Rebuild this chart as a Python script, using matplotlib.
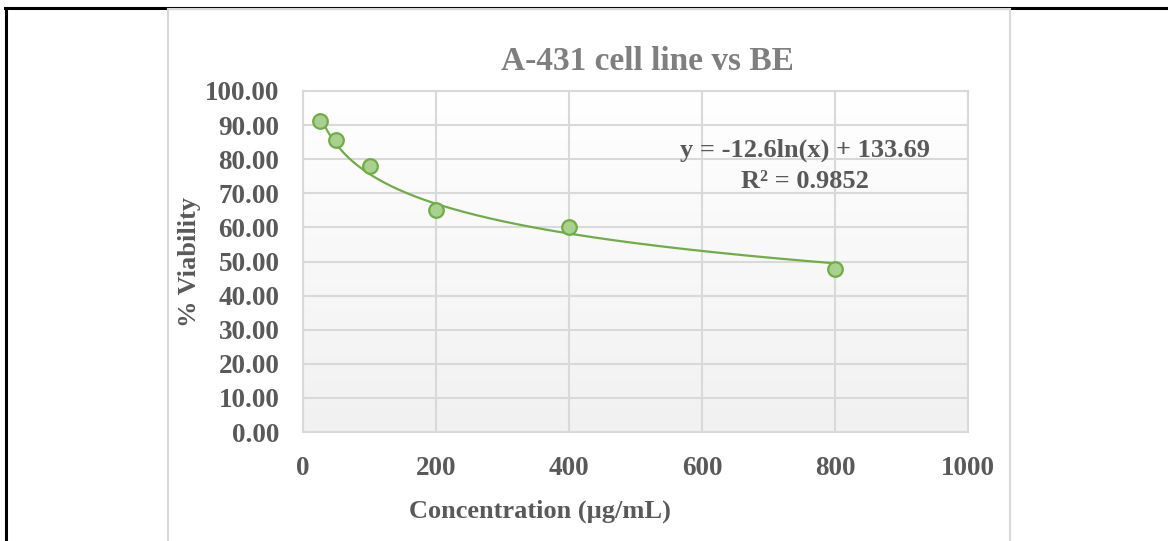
import numpy as np
import matplotlib
matplotlib.use("Agg")
from matplotlib import pyplot as plt
from matplotlib.lines import Line2D

plt.rcParams['font.family'] = ['Liberation Serif', 'DejaVu Serif']
plt.rcParams['font.weight'] = 'bold'

# data
conc = [25, 50, 100, 200, 400, 800]
viability = [91.2, 85.6, 78.0, 65.1, 60.1, 47.8]
# trendline coefficients as printed on the chart
slope = -12.6
intercept = 133.69
eq_text = 'y = -12.6ln(x) + 133.69'
r2_text = 'R² = 0.9852'
xticks = [0, 200, 400, 600, 800, 1000]
yticks = [0, 10, 20, 30, 40, 50, 60, 70, 80, 90, 100]

W, H = 1168, 541
fig = plt.figure(figsize=(W / 100, H / 100), dpi=100)
ax = fig.add_axes([303 / W, 1 - 432 / H, 665 / W, 341 / H])

txt = '#595959'
grid = '#d9d9d9'
green = '#70ad47'

# gradient background of the plot area (white on top, light grey at bottom)
grad = np.linspace(1.0, 0.945, 256).reshape(-1, 1)
ax.imshow(np.dstack([grad, grad, grad]), extent=[0, 1000, 0, 100], origin='upper',
          aspect='auto', zorder=0)

# trendline
xs = np.linspace(min(conc), max(conc), 300)
ax.plot(xs, slope * np.log(xs) + intercept, color=green, lw=1.6, zorder=3)
ax.plot(conc, viability, 'o', ms=10.5, mfc='#a9d18e', mec=green, mew=1.6, zorder=4)

ax.set_xlim(0, 1000)
ax.set_ylim(0, 100)
ax.set_xticks(xticks)
ax.set_yticks(yticks)
ax.set_yticklabels([f'{v:.2f}' for v in yticks])
ax.tick_params(length=0, labelsize=19.5, labelcolor=txt)
ax.tick_params(axis='x', pad=17)
ax.tick_params(axis='y', pad=17)
ax.grid(True, color=grid, lw=1.5, zorder=1)
ax.set_axisbelow(True)
for s in ax.spines.values():
    s.set_color(grid)
    s.set_linewidth(1.5)

ax.set_xlabel('Concentration (µg/mL)', fontsize=19, color=txt, labelpad=14, fontweight='bold')
ax.xaxis.label.set_x((540 - 303) / 665)
ax.set_ylabel('% Viability', fontsize=19, color=txt, labelpad=3, fontweight='bold')
ax.set_title('A-431 cell line vs BE', fontsize=24, color='#7f7f7f', pad=15, fontweight='bold')
ax.title.set_x((647 - 303) / 665)

ax.text(0.755, 0.825, eq_text, transform=ax.transAxes, ha='center', va='center',
        fontsize=19, color=txt)
ax.text(0.755, 0.735, r2_text, transform=ax.transAxes, ha='center', va='center',
        fontsize=19, color=txt)

# page border (black) and chart area border (light grey)
fig.add_artist(Line2D([5 / W, 1], [1 - 7.5 / H, 1 - 7.5 / H], color='black', lw=2.2))
fig.add_artist(Line2D([6 / W, 6 / W], [0, 1 - 7.5 / H], color='black', lw=2.2))
fig.add_artist(Line2D([167.5 / W, 167.5 / W], [0, 1 - 9 / H], color=grid, lw=1.5))
fig.add_artist(Line2D([1010.5 / W, 1010.5 / W], [0, 1 - 9 / H], color=grid, lw=1.5))
fig.add_artist(Line2D([167.5 / W, 1010.5 / W], [1 - 9 / H, 1 - 9 / H], color=grid, lw=1.5))

fig.savefig('out.png', dpi=100)
